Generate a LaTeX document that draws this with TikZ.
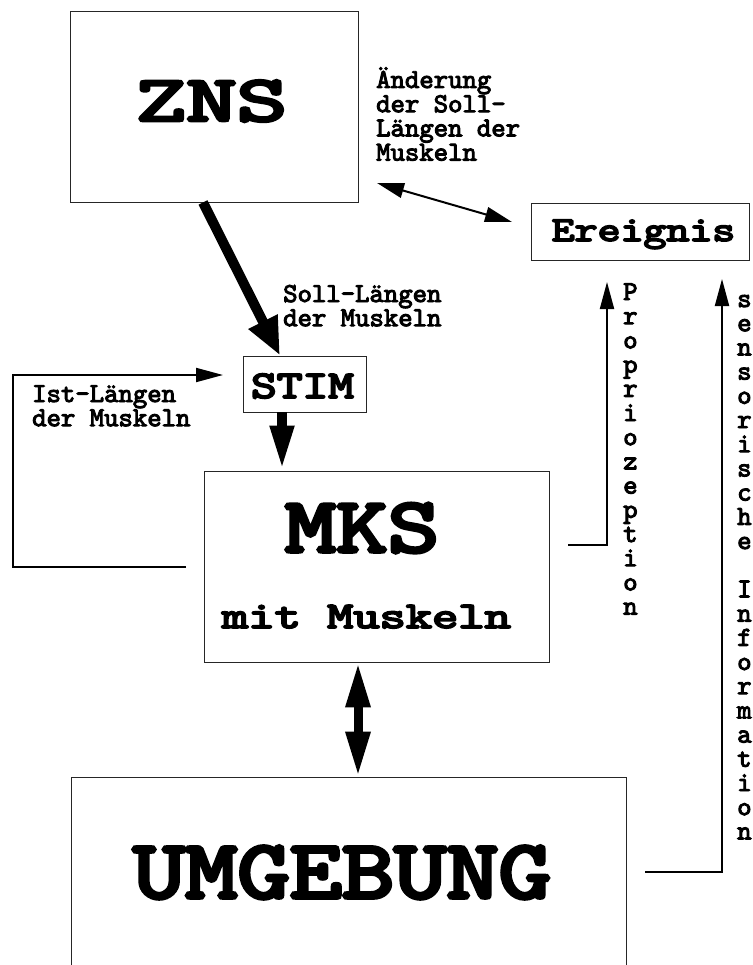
\documentclass[tikz,border=0pt]{standalone}
\usepackage{fontspec}
\newfontfamily\ttb{lmmono10-regular.otf}[FakeBold=3.6]
\newfontfamily\ttB{lmmono10-regular.otf}[FakeBold=4.5]
\usetikzlibrary{arrows.meta}
\begin{document}
\begin{tikzpicture}[x=1pt,y=-1pt,
  box/.style={draw=black!85, line width=0.9pt, inner sep=0pt},
  big/.style={anchor=base, inner sep=0pt, font=\ttB\fontsize{#1}{#1}\selectfont},
  small/.style={anchor=base west, inner sep=0pt, font=\ttb\fontsize{27.4}{24.2}\selectfont},
  thinarr/.style={line width=2pt, -{Triangle[length=27pt,width=14pt]}},
  thindbl/.style={line width=2pt, {Triangle[length=27pt,width=15pt]}-{Triangle[length=27pt,width=15pt]}},
  fatarr/.style={line width=10pt, -{Triangle[length=45pt,width=22pt]}},
  fatdbl/.style={line width=9pt, {Triangle[length=45pt,width=23pt]}-{Triangle[length=45pt,width=23pt]}},
  slantarr/.style={line width=10pt, -{Triangle[length=38pt,width=30pt]}}
]
\useasboundingbox (0,0) rectangle (752,965);
% boxes
\node[box, minimum width=288pt, minimum height=191pt] (zns) at (214,106.5) {};
\node[box, minimum width=218pt, minimum height=57pt] (ereig) at (640,231.5) {};
\node[box, minimum width=123pt, minimum height=56pt] (stim) at (304.5,384) {};
\node[box, minimum width=345pt, minimum height=191pt] (mks) at (376.5,566.5) {};
\node[box, minimum width=555pt, minimum height=191pt] (umg) at (348.5,872.5) {};
% box texts
\node[big=96] (znst) at (211.5,121) {\scalebox{1}[0.68]{ZNS}};
\node[big=43.7] (ereigt) at (643.5,241) {\scalebox{1}[0.8]{Ereignis}};
\node[big=49] (stimt) at (302.5,398) {\scalebox{1}[0.8]{STIM}};
\node[big=98] (mkst) at (362,552) {\scalebox{1}[0.8]{MKS}};
\node[big=50] (mitt) at (366.5,628) {\scalebox{1}[0.75]{mit Muskeln}};
\node[big=99.5] (umgt) at (342,898) {\scalebox{1}[0.84]{UMGEBUNG}};
% small texts
\node[small] (aend) at (376,88) {\vtop{\hbox{Änderung}\hbox{der Soll-}\hbox{Längen der}\hbox{Muskeln}}};
\node[small] (soll) at (283,302) {\vtop{\hbox{Soll-Längen}\hbox{der Muskeln}}};
\node[small] (ist) at (32,402) {\vtop{\hbox{Ist-Längen}\hbox{der Muskeln}}};
\node[small] (prop) at (623,300) {\vtop{\hbox{P}\hbox{r}\hbox{o}\hbox{p}\hbox{r}\hbox{i}\hbox{o}\hbox{z}\hbox{e}\hbox{p}\hbox{t}\hbox{i}\hbox{o}\hbox{n}}};
\node[small] (sens) at (737,307) {\vtop{\hbox{s}\hbox{e}\hbox{n}\hbox{s}\hbox{o}\hbox{r}\hbox{i}\hbox{s}\hbox{c}\hbox{h}\hbox{e}\hbox{}\hbox{I}\hbox{n}\hbox{f}\hbox{o}\hbox{r}\hbox{m}\hbox{a}\hbox{t}\hbox{i}\hbox{o}\hbox{n}}};
% connector coordinates
\coordinate (zx) at (203,0);
\coordinate (sx) at (280,0);
\coordinate (smx) at (282,0);
\coordinate (dmx) at (358,0);
\coordinate (a0) at (377,183);
\coordinate (a1) at (512,222);
\coordinate (l0) at (186,567);
\coordinate (l1) at (13,375);
\coordinate (l2) at (223,375);
\coordinate (p0) at (568,545);
\coordinate (p1) at (607,282);
\coordinate (s0) at (645,872);
\coordinate (s1) at (722,279);
% connectors
\draw[slantarr] (zns.south -| zx) -- (stim.north -| sx);
\draw[fatarr] (stim.south -| smx) -- (mks.north -| smx);
\draw[fatdbl] (mks.south -| dmx) -- (umg.north -| dmx);
\draw[thindbl] (a0) -- (a1);
\draw[thinarr] (l0) -| (l1) -- (l2);
\draw[thinarr] (p0) -| (p1);
\draw[thinarr] (s0) -| (s1);
\end{tikzpicture}
\end{document}
